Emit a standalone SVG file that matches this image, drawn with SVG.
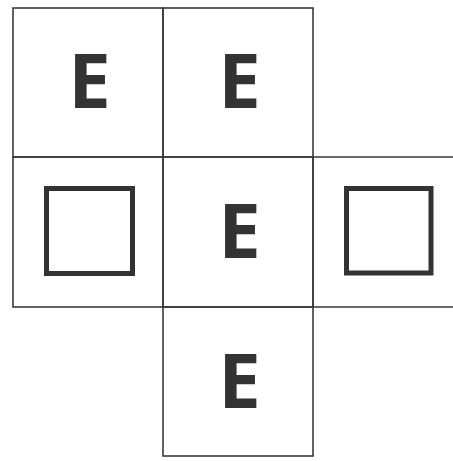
<svg xmlns="http://www.w3.org/2000/svg" width="453" height="461" viewBox="0 0 453 461">
<style>
.cell{fill:none;stroke:#3a3a3a;stroke-width:1.6}
.box{fill:none;stroke:#333;stroke-width:5}
.e{font-family:"Open Sans","DejaVu Sans",sans-serif;font-weight:700;font-size:76px;fill:#333;text-anchor:middle}
</style>
<rect width="453" height="461" fill="#fff"/>
<g id="cell-r1c1"><rect class="cell" x="13" y="8" width="150" height="149"/><text class="e" x="89.5" y="108">E</text></g>
<g id="cell-r1c2"><rect class="cell" x="163" y="8" width="150" height="149"/><text class="e" x="239.5" y="108">E</text></g>
<g id="cell-r2c1"><rect class="cell" x="13" y="157" width="150" height="150"/><rect class="box" x="46.5" y="188.5" width="86" height="85"/></g>
<g id="cell-r2c2"><rect class="cell" x="163" y="157" width="150" height="150"/><text class="e" x="239.5" y="258">E</text></g>
<g id="cell-r2c3"><path class="cell" d="M453 157H313V307H453"/><rect class="box" x="346.5" y="188.5" width="84.5" height="84.5"/></g>
<g id="cell-r3c2"><rect class="cell" x="163" y="307" width="150" height="149"/><text class="e" x="239.5" y="408">E</text></g>
<g id="connectors"></g>
</svg>
